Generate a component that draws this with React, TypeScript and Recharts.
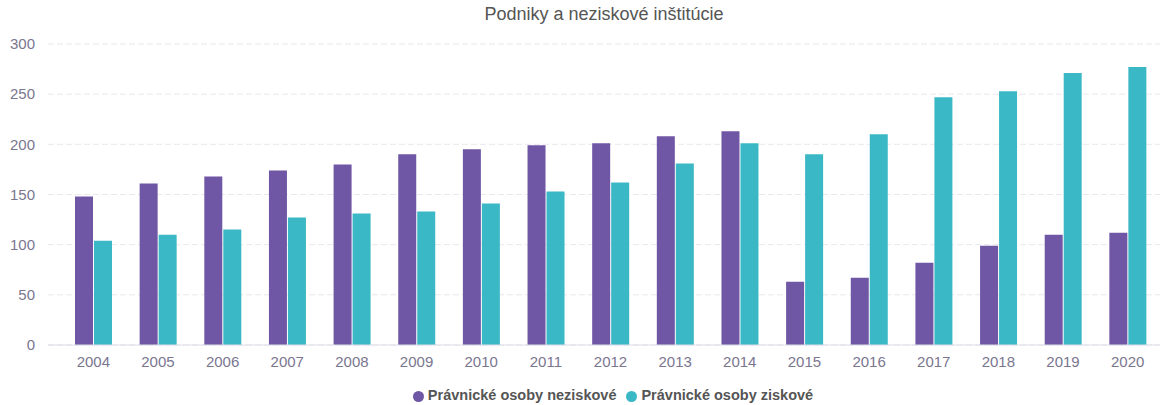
import { Bar, BarChart, CartesianGrid, Legend, XAxis, YAxis } from "recharts";

const years = ["2004", "2005", "2006", "2007", "2008", "2009", "2010", "2011", "2012", "2013", "2014", "2015", "2016", "2017", "2018", "2019", "2020"];
const neziskove = [148, 161, 168, 174, 180, 190, 195, 199, 201, 208, 213, 63, 67, 82, 99, 110, 112];
const ziskove = [104, 110, 115, 127, 131, 133, 141, 153, 162, 181, 201, 190, 210, 247, 253, 271, 277];
const yTicks = [0, 50, 100, 150, 200, 250, 300];

const data = years.map((year, i) => ({
  year,
  neziskove: neziskove[i],
  ziskove: ziskove[i],
}));

const font = "'Liberation Sans', Arial, sans-serif";
const tickStyle = { fill: "#7a7690", fontSize: 15, fontFamily: font };

export default function App() {
  return (
    <div style={{ position: "absolute", left: 0, top: 0, width: 1168, height: 405, background: "#fff", fontFamily: font }}>
      {/* title sits over the plot area, not the whole chart */}
      <div
        style={{
          position: "absolute",
          top: 4,
          left: 48,
          width: 1112,
          textAlign: "center",
          fontSize: 18,
          color: "#555",
        }}
      >
        Podniky a neziskové inštitúcie
      </div>
      <BarChart
        width={1168}
        height={405}
        data={data}
        margin={{ top: 44, right: 8, bottom: 0, left: 8 }}
        barSize={18}
        barGap={1}
      >
        <CartesianGrid vertical={false} stroke="#e8e8ee" strokeDasharray="6 3" />
        <XAxis
          dataKey="year"
          height={36}
          tickLine={false}
          axisLine={{ stroke: "#dcdce6" }}
          tickMargin={5}
          padding={{ left: 13, right: 0 }}
          tick={tickStyle}
        />
        <YAxis
          width={40}
          domain={[0, 300]}
          ticks={yTicks}
          tickLine={false}
          axisLine={false}
          tickMargin={7}
          tick={tickStyle}
        />
        <Legend
          verticalAlign="bottom"
          height={24}
          iconType="circle"
          iconSize={11}
          wrapperStyle={{
            left: 0,
            top: 387,
            bottom: "auto",
            width: 1168,
            paddingLeft: 68,
            boxSizing: "border-box",
            fontSize: 14.5,
            fontWeight: "bold",
            fontFamily: font,
          }}
          formatter={(value) => <span style={{ color: "#555" }}>{value}</span>}
        />
        <Bar dataKey="neziskove" name="Právnické osoby neziskové" fill="#7057a5" isAnimationActive={false} />
        <Bar dataKey="ziskove" name="Právnické osoby ziskové" fill="#3bb8c6" isAnimationActive={false} />
      </BarChart>
    </div>
  );
}
